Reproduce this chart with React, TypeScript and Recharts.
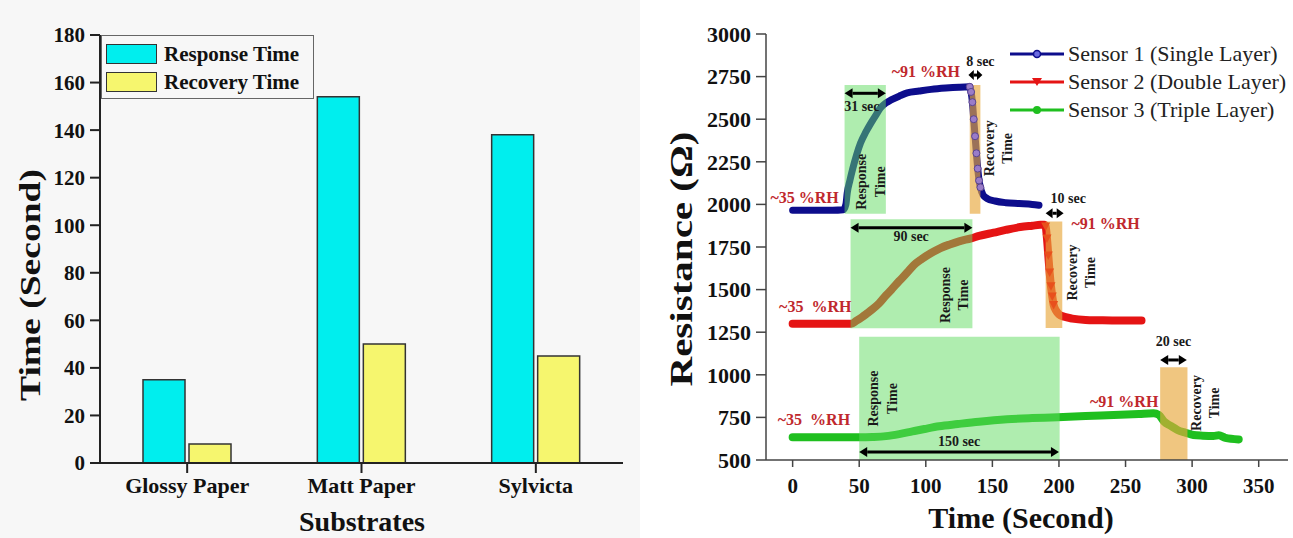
import React from "react";
import {
  BarChart,
  Bar,
  LineChart,
  Line,
  XAxis,
  YAxis,
  Legend,
  ReferenceArea,
  ReferenceLine,
  ReferenceDot,
} from "recharts";

const SERIF = '"Liberation Serif", "Times New Roman", serif';
const SANS = '"Liberation Sans", Arial, sans-serif';

// (a) response / recovery time per substrate
const substrates = ["Glossy Paper", "Matt Paper", "Sylvicta"];
const responseTime = [35, 154, 138];
const recoveryTime = [8, 50, 45];
const timeTicks = [0, 20, 40, 60, 80, 100, 120, 140, 160, 180];
const minorTimeTicks = [10, 30, 50, 70, 90, 110, 130, 150, 170];

// (b) resistance vs time for the three sensors
const s1Time = [0, 10, 20, 30, 38, 40, 41, 43, 45, 48, 51, 55, 59, 63, 66, 70, 74, 80, 86, 95, 104, 115, 125, 133, 134, 135, 136, 137, 138, 139, 140, 141, 143, 146, 152, 160, 170, 180, 185];
const s1Res = [1965, 1965, 1965, 1965, 1968, 2000, 2067, 2140, 2205, 2290, 2360, 2425, 2480, 2530, 2566, 2595, 2613, 2635, 2654, 2665, 2675, 2683, 2688, 2690, 2660, 2600, 2500, 2400, 2300, 2210, 2140, 2100, 2055, 2035, 2020, 2010, 2005, 2000, 1995];

const s2Time = [0, 10, 20, 30, 40, 44, 48, 52, 56, 60, 65, 70, 74, 80, 86, 91, 97, 104, 111, 118, 125, 134, 140, 151, 160, 171, 180, 186, 189, 190, 191, 192, 193, 194, 195, 196, 198, 200, 204, 210, 220, 230, 245, 262];
const s2Res = [1300, 1300, 1300, 1300, 1300, 1300, 1318, 1338, 1361, 1385, 1420, 1465, 1498, 1550, 1600, 1644, 1680, 1715, 1744, 1765, 1783, 1801, 1815, 1834, 1850, 1867, 1875, 1880, 1880, 1870, 1800, 1700, 1600, 1520, 1460, 1410, 1375, 1355, 1340, 1330, 1322, 1320, 1318, 1318];

const s3Time = [0, 10, 20, 30, 40, 51, 60, 70, 80, 90, 99, 110, 124, 140, 161, 180, 199, 220, 241, 260, 271, 275, 279, 284, 289, 295, 301, 308, 316, 320, 325, 335];
const s3Res = [633, 633, 633, 633, 633, 633, 635, 640, 652, 668, 682, 698, 711, 725, 739, 746, 751, 758, 764, 770, 774, 765, 725, 700, 676, 660, 647, 643, 641, 645, 630, 621];

const resTicks = [500, 750, 1000, 1250, 1500, 1750, 2000, 2250, 2500, 2750, 3000];
const secTicks = [0, 50, 100, 150, 200, 250, 300, 350];

const barData = substrates.map((name, i) => ({
  name,
  response: responseTime[i],
  recovery: recoveryTime[i],
}));
const zip = (t: number[], r: number[]) => t.map((v, i) => ({ t: v, r: r[i] }));
const sensor1 = zip(s1Time, s1Res);
const sensor2 = zip(s2Time, s2Res);
const sensor3 = zip(s3Time, s3Res);

// shaded response (green) / recovery (orange) windows
const responseWindows = [
  { x1: 39, x2: 70, y1: 1945, y2: 2700 },
  { x1: 43.5, x2: 135, y1: 1273, y2: 1913 },
  { x1: 50, x2: 200.5, y1: 500, y2: 1224 },
];
const recoveryWindows = [
  { x1: 133, x2: 141, y1: 1945, y2: 2700 },
  { x1: 190, x2: 202.5, y1: 1275, y2: 1899 },
  { x1: 276, x2: 296.5, y1: 500, y2: 1044 },
];
const arrows = [
  { x1: 39, x2: 70, y: 2652 },
  { x1: 132, x2: 142.5, y: 2759 },
  { x1: 43.5, x2: 135, y: 1863 },
  { x1: 190, x2: 203.5, y: 1948 },
  { x1: 50, x2: 200, y: 547 },
  { x1: 276, x2: 296, y: 1087 },
];
const secLabels = [
  { t: 52, r: 2573, text: "31 sec" },
  { t: 141, r: 2836, text: "8 sec" },
  { t: 89, r: 1810, text: "90 sec" },
  { t: 207, r: 2036, text: "10 sec" },
  { t: 125, r: 608, text: "150 sec" },
  { t: 286, r: 1194, text: "20 sec" },
];
const rhLabels = [
  { t: 9, r: 2043, text: "~35 %RH" },
  { t: 100, r: 2779, text: "~91 %RH" },
  { t: 17, r: 1400, text: "~35  %RH" },
  { t: 235, r: 1889, text: "~91 %RH" },
  { t: 16, r: 735, text: "~35  %RH" },
  { t: 249, r: 846, text: "~91 %RH" },
];
const vertLabels = [
  { t: 58, r: 2133, text: "Response" },
  { t: 121, r: 1468, text: "Response" },
  { t: 67, r: 861, text: "Response" },
  { t: 154, r: 2329, text: "Recovery" },
  { t: 216, r: 1600, text: "Recovery" },
  { t: 309, r: 835, text: "Recovery" },
];

const arrowShape = (p: any) => {
  const { x1, y1, x2, y2 } = p;
  const h = Math.min(8, (x2 - x1) / 2.6);
  const w = 5;
  return (
    <g>
      <line x1={x1 + h} y1={y1} x2={x2 - h} y2={y2} stroke="#000" strokeWidth={3} />
      <polygon points={`${x1},${y1} ${x1 + h},${y1 - w} ${x1 + h},${y1 + w}`} fill="#000" />
      <polygon points={`${x2},${y2} ${x2 - h},${y2 - w} ${x2 - h},${y2 + w}`} fill="#000" />
    </g>
  );
};

const textShape = (text: string, color: string, size: number) => (p: any) => (
  <text
    x={p.cx}
    y={p.cy}
    textAnchor="middle"
    dominantBaseline="central"
    fontFamily={SERIF}
    fontWeight="bold"
    fontSize={size}
    fill={color}
    style={{ whiteSpace: "pre" }}
  >
    {text}
  </text>
);

const vertShape = (text: string) => (p: any) => (
  <text
    x={p.cx}
    y={p.cy}
    transform={`rotate(-90 ${p.cx} ${p.cy})`}
    textAnchor="middle"
    fontFamily={SERIF}
    fontWeight="bold"
    fontSize={14}
    fill="#1a1a1a"
  >
    <tspan x={p.cx} dy="-0.25em">{text}</tspan>
    <tspan x={p.cx} dy="1.3em">Time</tspan>
  </text>
);

const noTick = () => <g />;
const keepOrder = () => 0;

const s1Dot = (p: any) =>
  p.payload && p.payload.t >= 133 && p.payload.t <= 141 ? (
    <circle key={p.index} cx={p.cx} cy={p.cy} r={3.5} fill="#9a7cc8" stroke="#5a4490" strokeWidth={1} />
  ) : (
    <g key={p.index} />
  );

const s2Dot = (p: any) =>
  p.payload && p.payload.t >= 190 && p.payload.t <= 196 ? (
    <polygon
      key={p.index}
      points={`${p.cx - 4.5},${p.cy - 4} ${p.cx + 4.5},${p.cy - 4} ${p.cx},${p.cy + 4.5}`}
      fill="#e8501c"
    />
  ) : (
    <g key={p.index} />
  );

const barLegend = (props: any) => (
  <div
    style={{
      border: "1.5px solid #666",
      background: "#f7f7f7",
      width: 213,
      padding: "4px 0 2px 4px",
      boxSizing: "border-box",
    }}
  >
    {(props.payload || []).map((e: any) => (
      <div key={e.value} style={{ display: "flex", alignItems: "center", height: 28 }}>
        <div
          style={{
            width: 51,
            height: 20,
            background: e.color,
            border: "1.5px solid #333",
            boxSizing: "border-box",
            marginRight: 7,
          }}
        />
        <span style={{ fontFamily: SERIF, fontWeight: "bold", fontSize: 21, color: "#111" }}>{e.value}</span>
      </div>
    ))}
  </div>
);

const lineLegend = (props: any) => (
  <div>
    {(props.payload || []).map((e: any, i: number) => (
      <div key={e.value} style={{ display: "flex", alignItems: "center", height: 28 }}>
        <svg width={56} height={12}>
          <line x1={0} y1={6} x2={54} y2={6} stroke={e.color} strokeWidth={3} />
          {i === 0 && <circle cx={27} cy={6} r={3.5} fill="#6a6ae0" stroke={e.color} strokeWidth={1.5} />}
          {i === 1 && <polygon points="22,2 32,2 27,10" fill={e.color} />}
          {i === 2 && <circle cx={27} cy={6} r={4} fill={e.color} />}
        </svg>
        <span style={{ fontFamily: SERIF, fontSize: 22, color: "#222", marginLeft: 2 }}>{e.value}</span>
      </div>
    ))}
  </div>
);

export default function App() {
  return (
    <div style={{ position: "absolute", left: 0, top: 0, width: 1293, height: 538, background: "#fff" }}>
      <div style={{ position: "absolute", left: 0, top: 0, background: "#f7f7f7" }}>
        <BarChart
          width={640}
          height={538}
          data={barData}
          margin={{ top: 35, right: 17, bottom: 30, left: 0 }}
          barSize={42}
          barGap={4}
        >
          <XAxis
            xAxisId="minor"
            type="number"
            domain={[0, 3]}
            ticks={[1, 2, 3]}
            height={0}
            tick={noTick}
            tickSize={6}
            axisLine={false}
            tickLine={{ stroke: "#222", strokeWidth: 2 }}
          />
          <XAxis
            dataKey="name"
            height={45}
            tickSize={10}
            tickMargin={4}
            axisLine={{ stroke: "#222", strokeWidth: 2 }}
            tickLine={{ stroke: "#222", strokeWidth: 2 }}
            tick={{ fontFamily: SERIF, fontWeight: "bold", fontSize: 22, fill: "#111" }}
            label={{
              content: () => (
                <text x={362} y={531} textAnchor="middle" fontFamily={SERIF} fontWeight="bold" fontSize={28} fill="#111">
                  Substrates
                </text>
              ),
            }}
          />
          <XAxis
            xAxisId="top"
            orientation="top"
            type="number"
            domain={[0, 1]}
            height={0}
            tick={false}
            tickLine={false}
            axisLine={{ stroke: "#222", strokeWidth: 2 }}
            label={{
              content: () => (
                <text x={572} y={72} textAnchor="middle" dominantBaseline="central" fontFamily={SANS} fontSize={30} fill="#222">
                  (a)
                </text>
              ),
            }}
          />
          <YAxis
            yAxisId="minor"
            domain={[0, 180]}
            ticks={minorTimeTicks}
            width={0}
            tick={noTick}
            tickSize={6}
            axisLine={false}
            tickLine={{ stroke: "#222", strokeWidth: 2 }}
          />
          <YAxis
            domain={[0, 180]}
            ticks={timeTicks}
            width={100}
            tickSize={10}
            tickMargin={5}
            axisLine={{ stroke: "#222", strokeWidth: 2 }}
            tickLine={{ stroke: "#222", strokeWidth: 2 }}
            tick={{ fontFamily: SERIF, fontWeight: "bold", fontSize: 21, fill: "#111" }}
            label={{
              content: () => (
                <text
                  x={30}
                  y={285}
                  transform="rotate(-90 30 285)"
                  textAnchor="middle"
                  dominantBaseline="central"
                  fontFamily={SERIF}
                  fontWeight="bold"
                  fontSize={29}
                  fill="#111"
                  textLength={232}
                  lengthAdjust="spacingAndGlyphs"
                >
                  Time (Second)
                </text>
              ),
            }}
          />
          <YAxis
            yAxisId="right"
            orientation="right"
            domain={[0, 180]}
            width={0}
            tick={false}
            tickLine={false}
            axisLine={{ stroke: "#222", strokeWidth: 2 }}
          />
          <Legend
            content={barLegend}
            itemSorter={keepOrder}
            verticalAlign="top"
            wrapperStyle={{ left: 101, top: 35, width: 213, height: 0, overflow: "visible" }}
          />
          <Bar dataKey="response" name="Response Time" fill="#00eeee" stroke="#333" strokeWidth={1.5} isAnimationActive={false} />
          <Bar dataKey="recovery" name="Recovery Time" fill="#f6f66e" stroke="#333" strokeWidth={1.5} isAnimationActive={false} />
        </BarChart>
      </div>

      <div style={{ position: "absolute", left: 660, top: 0 }}>
        <LineChart width={633} height={538} margin={{ top: 34, right: 5, bottom: 30, left: 0 }}>
          <XAxis
            type="number"
            dataKey="t"
            domain={[-20, 372]}
            ticks={secTicks}
            allowDataOverflow
            height={48}
            tickSize={7}
            tickMargin={11}
            axisLine={{ stroke: "#444", strokeWidth: 1.5 }}
            tickLine={{ stroke: "#444", strokeWidth: 1.5 }}
            tick={{ fontFamily: SERIF, fontWeight: "bold", fontSize: 21, fill: "#111" }}
            label={{
              content: () => (
                <text x={361} y={517} textAnchor="middle" dominantBaseline="central" fontFamily={SERIF} fontWeight="bold" fontSize={30} fill="#111">
                  Time (Second)
                </text>
              ),
            }}
          />
          <XAxis
            xAxisId="top"
            orientation="top"
            type="number"
            domain={[-20, 372]}
            height={0}
            tick={false}
            tickLine={false}
            axisLine={{ stroke: "#444", strokeWidth: 1.5 }}
            label={{
              content: () => (
                <text x={144} y={68} textAnchor="middle" dominantBaseline="central" fontFamily={SANS} fontSize={30} fill="#222">
                  (b)
                </text>
              ),
            }}
          />
          <YAxis
            type="number"
            dataKey="r"
            domain={[500, 3000]}
            ticks={resTicks}
            allowDataOverflow
            width={106}
            tickSize={10}
            tickMargin={5}
            axisLine={{ stroke: "#444", strokeWidth: 1.5 }}
            tickLine={{ stroke: "#444", strokeWidth: 1.5 }}
            tick={{ fontFamily: SERIF, fontWeight: "bold", fontSize: 22, fill: "#111" }}
            label={{
              content: () => (
                <text
                  x={21}
                  y={259}
                  transform="rotate(-90 21 259)"
                  textAnchor="middle"
                  dominantBaseline="central"
                  fontFamily={SERIF}
                  fontWeight="bold"
                  fontSize={32}
                  fill="#111"
                  textLength={255}
                  lengthAdjust="spacingAndGlyphs"
                >
                  Resistance (Ω)
                </text>
              ),
            }}
          />
          <YAxis
            yAxisId="right"
            orientation="right"
            domain={[500, 3000]}
            width={0}
            tick={false}
            tickLine={false}
            axisLine={{ stroke: "#444", strokeWidth: 1.5 }}
          />
          <Legend
            content={lineLegend}
            itemSorter={keepOrder}
            verticalAlign="top"
            wrapperStyle={{ left: 350, top: 40, width: 280, height: 0, overflow: "visible" }}
          />

          <Line data={sensor1} dataKey="r" name="Sensor 1 (Single Layer)" type="monotone" stroke="#0d0d8c" strokeWidth={7} strokeLinecap="round" strokeLinejoin="round" dot={s1Dot} isAnimationActive={false} />
          <Line data={sensor2} dataKey="r" name="Sensor 2 (Double Layer)" type="monotone" stroke="#e51414" strokeWidth={8} strokeLinecap="round" strokeLinejoin="round" dot={s2Dot} isAnimationActive={false} />
          <Line data={sensor3} dataKey="r" name="Sensor 3 (Triple Layer)" type="monotone" stroke="#1fbf1f" strokeWidth={8} strokeLinecap="round" strokeLinejoin="round" dot={false} isAnimationActive={false} />

          {responseWindows.map((w, i) => (
            <ReferenceArea key={"g" + i} x1={w.x1} x2={w.x2} y1={w.y1} y2={w.y2} fill="#5fdc5f" fillOpacity={0.5} stroke="none" zIndex={450} />
          ))}
          {recoveryWindows.map((w, i) => (
            <ReferenceArea key={"o" + i} x1={w.x1} x2={w.x2} y1={w.y1} y2={w.y2} fill="#e8a83c" fillOpacity={0.65} stroke="none" zIndex={450} />
          ))}
          {arrows.map((a, i) => (
            <ReferenceLine key={"a" + i} segment={[{ x: a.x1, y: a.y }, { x: a.x2, y: a.y }]} shape={arrowShape} zIndex={500} />
          ))}
          {secLabels.map((l, i) => (
            <ReferenceDot key={"s" + i} x={l.t} y={l.r} r={0} shape={textShape(l.text, "#1a1a1a", 14)} zIndex={500} />
          ))}
          {rhLabels.map((l, i) => (
            <ReferenceDot key={"h" + i} x={l.t} y={l.r} r={0} shape={textShape(l.text, "#c0282d", 16)} zIndex={500} />
          ))}
          {vertLabels.map((l, i) => (
            <ReferenceDot key={"v" + i} x={l.t} y={l.r} r={0} shape={vertShape(l.text)} zIndex={500} />
          ))}
        </LineChart>
      </div>
    </div>
  );
}
